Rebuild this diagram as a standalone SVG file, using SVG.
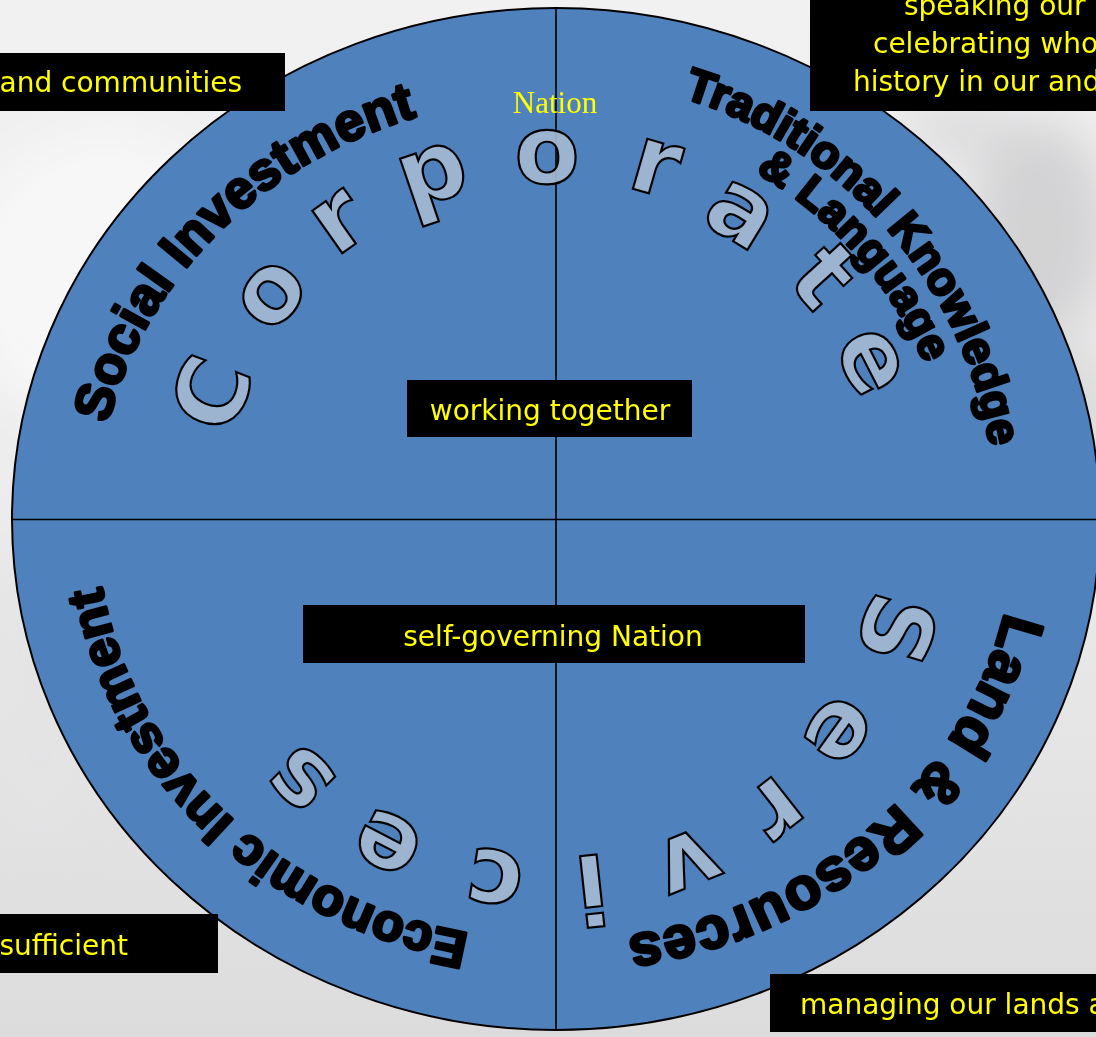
<svg xmlns="http://www.w3.org/2000/svg" width="1096" height="1037" viewBox="0 0 1096 1037">
<style>
.cs{font-family:"DejaVu Sans","Liberation Sans",sans-serif;font-weight:bold;font-size:95px;fill:#a3b8d0;fill-opacity:0.93;stroke:#000;stroke-width:2.2;text-anchor:middle}
.tt{font-family:"Liberation Sans",Arial,sans-serif;font-weight:bold;fill:#000;stroke:#000;stroke-width:3;stroke-linejoin:round}
.bx{fill:#000}
.bt{font-family:"DejaVu Sans",Verdana,sans-serif;font-size:28px;fill:#ffff00}
.ln{stroke:#000;stroke-width:1.6;fill:none}
</style>
<defs>
<linearGradient id="bg" x1="0" y1="0" x2="0" y2="1">
<stop offset="0" stop-color="#f1f1f2"/>
<stop offset="0.45" stop-color="#ededee"/>
<stop offset="1" stop-color="#dcdcdd"/>
</linearGradient>
<filter id="blur" x="-50%" y="-50%" width="200%" height="200%"><feGaussianBlur stdDeviation="24"/></filter>
<path id="p-social" d="M 107.9 423.8 A 460 422 0 0 1 482.5 102.4"/>
<path id="p-trad" d="M 682.7 97.6 A 440 440 0 0 1 996 519"/>
<path id="p-lang" d="M 755.6 172.3 A 400 400 0 0 1 947.3 435.8"/>
<path id="p-land" d="M 1004.7 611.9 A 460 422 0 0 1 556 941"/>
<path id="p-econ" d="M 469.4 933.5 A 460 422 0 0 1 96 519"/>
</defs>
<rect width="1096" height="1037" fill="url(#bg)"/>
<g filter="url(#blur)">
<ellipse cx="110" cy="280" rx="150" ry="150" fill="#f9f9f9" opacity="0.8"/>
<ellipse cx="1040" cy="230" rx="70" ry="110" fill="#cacacb" opacity="0.75"/>
<ellipse cx="1070" cy="420" rx="50" ry="80" fill="#d2d2d3" opacity="0.7"/>
<ellipse cx="960" cy="130" rx="60" ry="30" fill="#d4d4d5" opacity="0.7"/>
<ellipse cx="40" cy="700" rx="60" ry="140" fill="#e4e4e5" opacity="0.8"/>
</g>
<g id="wheel">
<ellipse cx="556" cy="519" rx="544" ry="511" fill="#4f81bd" stroke="#000" stroke-width="2"/>
</g>
<g id="connectors">
<line class="ln" x1="556" y1="8" x2="556" y2="1030"/>
<line class="ln" x1="12" y1="519.5" x2="1100" y2="519.5"/>
</g>
<g id="corporate-services">
<text class="cs" transform="translate(210,393) rotate(-69)" x="0" y="35">C</text>
<text class="cs" transform="translate(272,295) rotate(-50.7)" x="0" y="26">o</text>
<text class="cs" transform="translate(340,223) rotate(-35.2)" x="0" y="26">r</text>
<text class="cs" transform="translate(433,175) rotate(-18.8)" x="0" y="26">p</text>
<text class="cs" transform="translate(547,157) rotate(-0.8)" x="0" y="26">o</text>
<text class="cs" transform="translate(655,168) rotate(16.1)" x="0" y="26">r</text>
<text class="cs" transform="translate(740,215) rotate(31.3)" x="0" y="26">a</text>
<text class="cs" transform="translate(823,277) rotate(47.7)" x="0" y="31">t</text>
<text class="cs" transform="translate(870,362) rotate(63)" x="0" y="26">e</text>
<text class="cs" transform="translate(898,630) rotate(107)" x="0" y="35">S</text>
<text class="cs" transform="translate(838,730) rotate(125.8)" x="0" y="26">e</text>
<text class="cs" transform="translate(775,807) rotate(141.8)" x="0" y="26">r</text>
<text class="cs" transform="translate(687,860) rotate(158.1)" x="0" y="26">v</text>
<text class="cs" transform="translate(592,890) rotate(173.8)" x="0" y="35">i</text>
<text class="cs" transform="translate(495,877) rotate(189.2)" x="0" y="26">c</text>
<text class="cs" transform="translate(388,842) rotate(207.3)" x="0" y="26">e</text>
<text class="cs" transform="translate(302,778) rotate(224.5)" x="0" y="26">s</text>
</g>
<g id="social-investment">
<text class="tt" font-size="53"><textPath href="#p-social" textLength="456" lengthAdjust="spacing">Social Investment</textPath></text>
</g>
<g id="traditional-knowledge">
<text class="tt" font-size="46"><textPath href="#p-trad" textLength="490" lengthAdjust="spacing">Traditional Knowledge</textPath></text>
<text class="tt" font-size="45"><textPath href="#p-lang" textLength="260" lengthAdjust="spacing">&amp; Language</textPath></text>
</g>
<g id="land-resources">
<text class="tt" font-size="59"><textPath href="#p-land" textLength="528" lengthAdjust="spacing">Land &amp; Resources</textPath></text>
</g>
<g id="economic-investment">
<text class="tt" font-size="52"><textPath href="#p-econ" textLength="538" lengthAdjust="spacing">Economic Investment</textPath></text>
</g>
<g id="nation-label">
<text x="555" y="113" font-family="'Liberation Serif','Times New Roman',serif" font-size="31" fill="#ffff00" text-anchor="middle">Nation</text>
</g>
<g id="box-communities">
<rect class="bx" x="-10" y="53" width="295" height="58"/>
<text class="bt" x="242" y="92" text-anchor="end">and communities</text>
</g>
<g id="box-language">
<rect class="bx" x="810" y="-10" width="296" height="121"/>
<text class="bt" x="904" y="15">speaking our</text>
<text class="bt" x="873" y="53">celebrating who</text>
<text class="bt" x="853" y="91">history in our and</text>
</g>
<g id="box-working">
<rect class="bx" x="407" y="380" width="285" height="57"/>
<text class="bt" x="550" y="420" text-anchor="middle">working together</text>
</g>
<g id="box-selfgov">
<rect class="bx" x="303" y="605" width="502" height="58"/>
<text class="bt" x="553" y="646" text-anchor="middle">self-governing Nation</text>
</g>
<g id="box-sufficient">
<rect class="bx" x="-10" y="914" width="228" height="59"/>
<text class="bt" x="128" y="955" text-anchor="end">sufficient</text>
</g>
<g id="box-managing">
<rect class="bx" x="770" y="974" width="336" height="58"/>
<text class="bt" x="800" y="1014">managing our lands a</text>
</g>
</svg>
